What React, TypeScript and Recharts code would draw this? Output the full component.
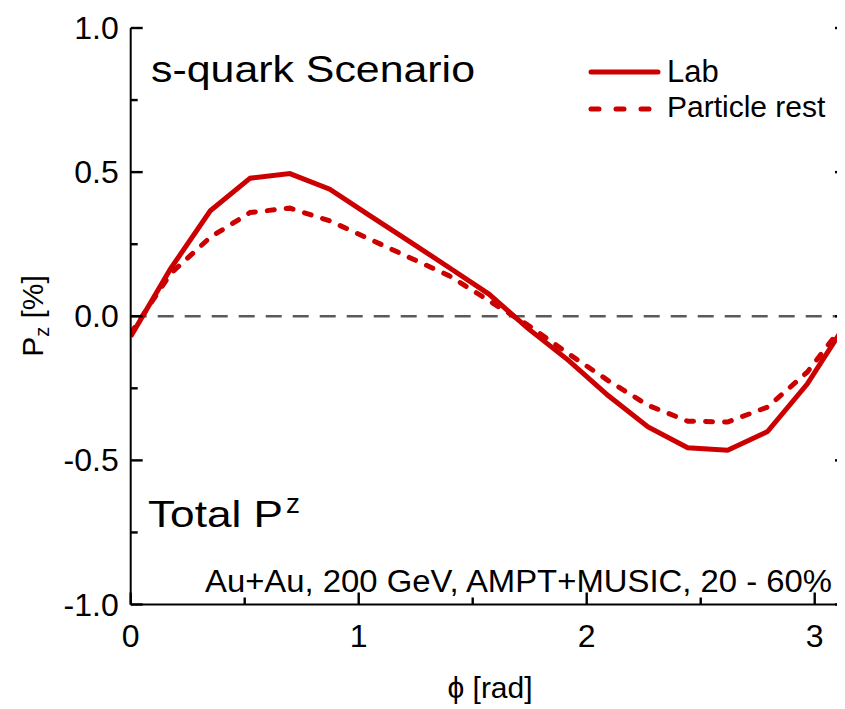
import React from 'react';
import { LineChart, Line, XAxis, YAxis, ReferenceLine, Customized } from 'recharts';

// phi [rad] sampled every 10 degrees
const PHI = [0, 0.175, 0.349, 0.524, 0.698, 0.873, 1.047, 1.222, 1.396, 1.571, 1.745, 1.92, 2.094, 2.269, 2.443, 2.618, 2.793, 2.967, 3.1416];
const LAB = [-0.07, 0.165, 0.366, 0.479, 0.495, 0.441, 0.35, 0.26, 0.169, 0.077, -0.044, -0.153, -0.275, -0.384, -0.456, -0.465, -0.4, -0.235, -0.02];
const REST = [-0.06, 0.148, 0.274, 0.36, 0.375, 0.331, 0.268, 0.204, 0.141, 0.054, -0.032, -0.13, -0.223, -0.309, -0.364, -0.367, -0.315, -0.194, -0.015];

const X_TICKS = [0, 0.5, 1, 1.5, 2, 2.5, 3];
const Y_TICKS = [-1, -0.75, -0.5, -0.25, 0, 0.25, 0.5, 0.75, 1];

const data = PHI.map((phi, i) => ({ phi, lab: LAB[i], rest: REST[i] }));

const RED = '#cc0000';
const FONT = '"Liberation Sans", Arial, sans-serif';
const MAJOR = 12;
const MINOR = 7;
const TW = 2.4; // tick thickness

const isMajorX = (v: number) => Math.abs(v - Math.round(v)) < 1e-6;
const isMajorY = (v: number) => Math.abs(v * 2 - Math.round(v * 2)) < 1e-6;

// ticks point into the plot, like the original
function BottomTick(props: any) {
    const x = Number(props.x);
    const y = Number(props.y);
    const v = props.payload.value;
    const len = isMajorX(v) ? MAJOR : MINOR;
    return (
        <g>
            <rect x={x - TW / 2} y={y - len} width={TW} height={len} fill="#000" />
            {isMajorX(v) && (
                <text x={x} y={y + 42} textAnchor="middle" fontSize={32} fontFamily={FONT} fill="#000">
                    {String(v)}
                </text>
            )}
        </g>
    );
}

function TopTick(props: any) {
    const x = Number(props.x);
    const y = Number(props.y);
    const len = isMajorX(props.payload.value) ? MAJOR : MINOR;
    return <rect x={x - TW / 2} y={y} width={TW} height={len} fill="#000" />;
}

function LeftTick(props: any) {
    const x = Number(props.x);
    const y = Number(props.y);
    const v = props.payload.value;
    const len = isMajorY(v) ? MAJOR : MINOR;
    return (
        <g>
            <rect x={x} y={y - TW / 2} width={len} height={TW} fill="#000" />
            {isMajorY(v) && (
                <text x={x - 12} y={y + 11} textAnchor="end" fontSize={32} fontFamily={FONT} fill="#000">
                    {v.toFixed(1)}
                </text>
            )}
        </g>
    );
}

function RightTick(props: any) {
    const x = Number(props.x);
    const y = Number(props.y);
    const len = isMajorY(props.payload.value) ? MAJOR : MINOR;
    return <rect x={x - len} y={y - TW / 2} width={len} height={TW} fill="#000" />;
}

function Overlay() {
    return (
        <g fontFamily={FONT} fill="#000">
            <text x={151} y={82} fontSize={36} textLength={324} lengthAdjust="spacingAndGlyphs">s-quark Scenario</text>

            {/* legend */}
            <line x1={591} x2={658} y1={72} y2={72} stroke={RED} strokeWidth={5} strokeLinecap="round" />
            <text x={667} y={82} fontSize={31}>Lab</text>
            <line x1={591} x2={658} y1={109} y2={109} stroke={RED} strokeWidth={5} strokeLinecap="round" strokeDasharray="8 17" />
            <text x={667} y={117} fontSize={30}>Particle rest</text>

            <text x={148} y={527} fontSize={37} textLength={135} lengthAdjust="spacingAndGlyphs">Total P</text>
            <text x={286} y={513} fontSize={27} textLength={14} lengthAdjust="spacingAndGlyphs">z</text>

            <text x={205} y={592} fontSize={31} textLength={627} lengthAdjust="spacingAndGlyphs">
                Au+Au, 200 GeV, AMPT+MUSIC, 20 - 60%
            </text>

            {/* axis titles */}
            <text x={490} y={698} fontSize={30} textAnchor="middle">ϕ [rad]</text>
            <text x={43} y={316} fontSize={30} textAnchor="middle" transform="rotate(-90 43 316)">
                <tspan>P</tspan>
                <tspan fontSize={20} dy={6}>z</tspan>
                <tspan dy={-6}> [%]</tspan>
            </text>
        </g>
    );
}

export default function App() {
    return (
        <div style={{ margin: '-8px 0 0 -8px', width: 845, height: 709, overflow: 'hidden', background: '#fff' }}>
            <LineChart width={850} height={709} data={data} margin={{ top: 28, right: 0, bottom: 0, left: 0 }}>
                <XAxis
                    xAxisId="b"
                    type="number"
                    dataKey="phi"
                    domain={[0, 3.1416]}
                    allowDataOverflow
                    ticks={X_TICKS}
                    interval={0}
                    height={104.5}
                    tickSize={0}
                    tickMargin={0}
                    tickLine={false}
                    axisLine={{ stroke: '#000', strokeWidth: 2 }}
                    tick={(p: any) => <BottomTick {...p} />}
                />
                <XAxis
                    xAxisId="t"
                    orientation="top"
                    type="number"
                    domain={[0, 3.1416]}
                    allowDataOverflow
                    ticks={X_TICKS}
                    interval={0}
                    height={0}
                    tickSize={0}
                    tickMargin={0}
                    tickLine={false}
                    axisLine={{ stroke: '#000', strokeWidth: 2 }}
                    tick={(p: any) => <TopTick {...p} />}
                />
                <YAxis
                    yAxisId="l"
                    type="number"
                    domain={[-1, 1]}
                    allowDataOverflow
                    ticks={Y_TICKS}
                    interval={0}
                    width={130.7}
                    tickSize={0}
                    tickMargin={0}
                    tickLine={false}
                    axisLine={{ stroke: '#000', strokeWidth: 2 }}
                    tick={(p: any) => <LeftTick {...p} />}
                />
                <YAxis
                    yAxisId="r"
                    orientation="right"
                    type="number"
                    domain={[-1, 1]}
                    allowDataOverflow
                    ticks={Y_TICKS}
                    interval={0}
                    width={3}
                    tickSize={0}
                    tickMargin={0}
                    tickLine={false}
                    axisLine={{ stroke: '#000', strokeWidth: 2 }}
                    tick={(p: any) => <RightTick {...p} />}
                />
                <ReferenceLine xAxisId="b" yAxisId="l" y={0} stroke="#5a5a5a" strokeWidth={2.5} strokeDasharray="16 11" />
                <Line
                    xAxisId="b"
                    yAxisId="l"
                    type="linear"
                    dataKey="lab"
                    stroke={RED}
                    strokeWidth={5}
                    dot={false}
                    isAnimationActive={false}
                />
                <Line
                    xAxisId="b"
                    yAxisId="l"
                    type="linear"
                    dataKey="rest"
                    stroke={RED}
                    strokeWidth={5}
                    strokeDasharray="7 12"
                    strokeLinecap="round"
                    dot={false}
                    isAnimationActive={false}
                />
                <Customized component={Overlay} />
            </LineChart>
        </div>
    );
}
